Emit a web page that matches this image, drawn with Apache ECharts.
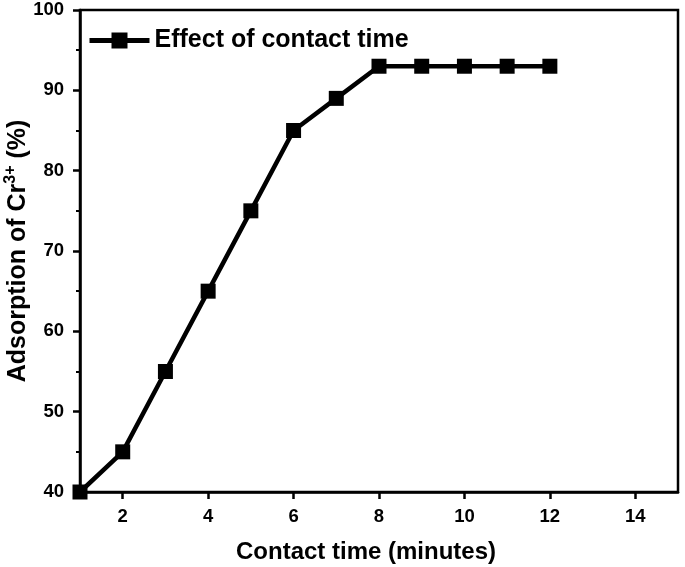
<!DOCTYPE html>
<html><head><meta charset="utf-8">
<script src="https://cdn.jsdelivr.net/npm/echarts@6/dist/echarts.min.js"></script>
<style>html,body{margin:0;padding:0;background:#fff}#c{width:685px;height:567px}</style>
</head><body><div id="c"></div>
<script>
const contactTime = [1, 2, 3, 4, 5, 6, 7, 8, 9, 10, 11, 12];
const adsorption = [40, 45, 55, 65, 75, 85, 89, 93, 93, 93, 93, 93];
const xTicks = [2, 4, 6, 8, 10, 12, 14];
const seriesName = 'Effect of contact time';

const chart = echarts.init(document.getElementById('c'));
const font = '"Liberation Sans", Arial, sans-serif';
chart.setOption({
  animation: false,
  backgroundColor: '#fff',
  grid: { left: 80, right: 7, top: 10, bottom: 75, show: true, borderColor: '#000', borderWidth: 2.5, containLabel: false, outerBoundsMode: 'none' },
  legend: {
    left: 82, top: 23, itemWidth: 60, itemHeight: 20, itemGap: 8,
    lineStyle: { width: 5, color: '#000' },
    textStyle: { fontFamily: font, fontWeight: 'bold', fontSize: 25, color: '#000' },
    data: [seriesName]
  },
  xAxis: {
    type: 'value', min: 1, max: 15,
    name: 'Contact time (minutes)', nameLocation: 'middle', nameGap: 48, nameMoveOverlap: false,
    nameTextStyle: { fontFamily: font, fontWeight: 'bold', fontSize: 24, color: '#000', padding: [0, 26, 0, 0] },
    axisLine: { show: true, lineStyle: { color: '#000', width: 2.5 } },
    axisTick: { show: true, inside: false, length: 7, lineStyle: { color: '#000', width: 2.5 }, customValues: xTicks },
    axisLabel: { fontFamily: font, fontWeight: 'bold', fontSize: 18.5, color: '#000', margin: 15, customValues: xTicks },
    splitLine: { show: false }
  },
  yAxis: {
    type: 'value', min: 40, max: 100, interval: 10,
    name: '{a|Adsorption of Cr}{s|3+}{a| (%)}', nameLocation: 'middle', nameGap: 49, nameMoveOverlap: false,
    nameTextStyle: {
      fontFamily: font, fontWeight: 'bold', fontSize: 25, color: '#000',
      rich: {
        a: { fontFamily: font, fontWeight: 'bold', fontSize: 25, color: '#000', verticalAlign: 'bottom', lineHeight: 28 },
        s: { fontFamily: font, fontWeight: 'bold', fontSize: 16, color: '#000', verticalAlign: 'top', lineHeight: 28, padding: [0, 0, 12, 0] }
      }
    },
    axisLine: { show: true, lineStyle: { color: '#000', width: 2.5 } },
    axisTick: { show: true, inside: false, length: 7, lineStyle: { color: '#000', width: 2.5 } },
    minorTick: { show: true, splitNumber: 2, length: 4, lineStyle: { color: '#000', width: 2 } },
    axisLabel: { fontFamily: font, fontWeight: 'bold', fontSize: 18.5, color: '#000', margin: 16 },
    splitLine: { show: false }
  },
  series: [{
    name: seriesName, type: 'line',
    data: contactTime.map((t, i) => [t, adsorption[i]]),
    symbol: 'rect', symbolSize: 15, showSymbol: true,
    lineStyle: { color: '#000', width: 4.5 },
    itemStyle: { color: '#000' },
    clip: false
  }]
});
</script></body></html>
